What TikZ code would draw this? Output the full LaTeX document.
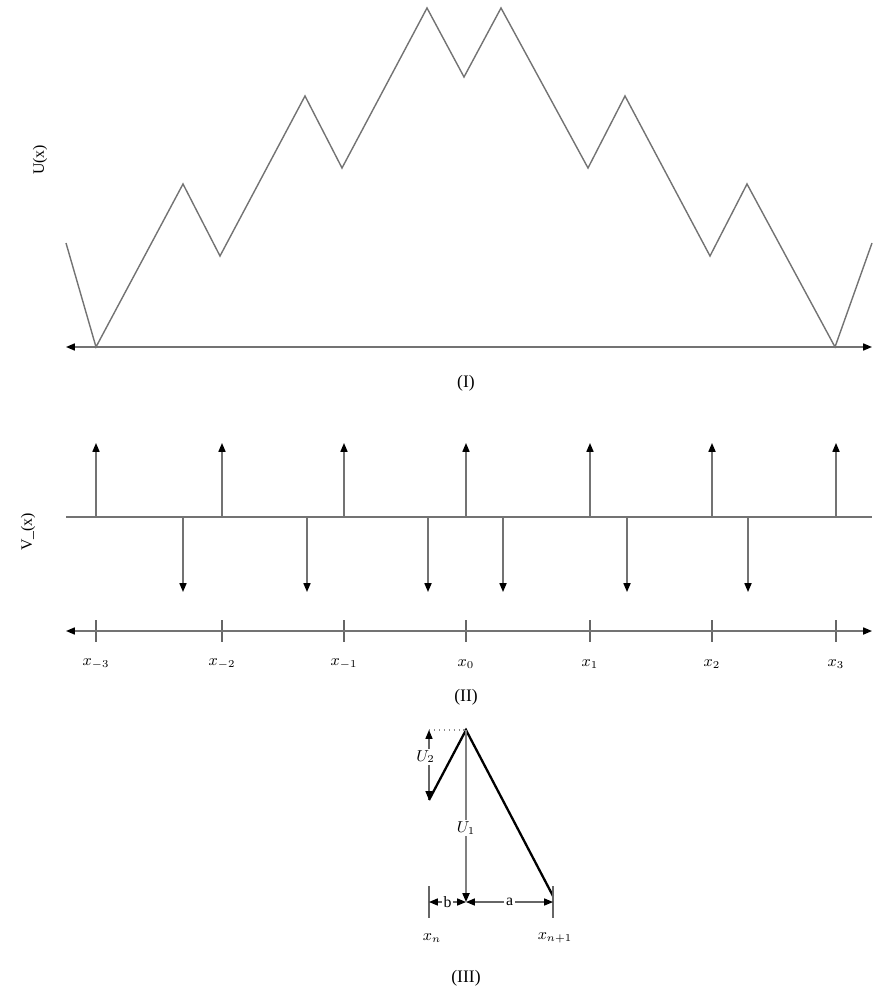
\documentclass[tikz,border=0pt]{standalone}
\usepackage{fontspec}
\setmainfont{Liberation Serif}
\usetikzlibrary{arrows.meta}
\usetikzlibrary{positioning}

\begin{document}
\begin{tikzpicture}[x=0.02cm,y=-0.02cm,
  curve/.style={draw=black!55,line width=0.8pt,line join=miter},
  axis/.style={draw=black!55,line width=0.8pt},
  tip/.style={-{Triangle[length=5pt,width=4pt,color=black]}},
  bothtips/.style={{Triangle[length=5pt,width=4pt,color=black]}-{Triangle[length=5pt,width=4pt,color=black]}},
  lbl/.style={font=\small,inner sep=1pt,text=black},
  partcap/.style={font=\normalsize,inner sep=1pt,text=black},
  thick line/.style={draw=black,line width=1.3pt}]
\useasboundingbox (0,0) rectangle (872,993);

% (I) the potential
\foreach \i/\px/\py in {0/66/243,1/96/347,2/183/184,3/220/256,4/305/96,
  5/342/168,6/427/8,7/464/77,8/501/8,9/588/168,10/625/96,11/710/256,
  12/747/184,13/835/347,14/872/243}
  \coordinate (u\i) at (\px,\py);
\draw[curve] (u0) \foreach \i in {1,...,14}{-- (u\i)};
\coordinate (iL) at (66,347);
\coordinate (iR) at (872,347);
\draw[axis,bothtips] (iL) -- (iR);
\node[lbl,rotate=90] (ulab) at (40,160) {U(x)};
\node[partcap] (capI) at (466,383) {(I)};

% (II) the spikes
\coordinate (bL) at (66,517);
\coordinate (bR) at (872,517);
\draw[axis] (bL) -- (bR);
\foreach \n/\px in {-3/96,-2/222,-1/344,0/466,1/590,2/712,3/836}{
  \coordinate (up\n) at (\px,517);
  \coordinate (upt\n) at (\px,443);
  \draw[axis,tip] (up\n) -- (upt\n);
  \coordinate (tk\n) at (\px,631);
  \draw[black!60,line width=0.6pt] ([yshift=6pt]tk\n) -- ([yshift=-6pt]tk\n);
  \node[lbl] (xl\n) at (\px,664) {$x_{\n}$};
}
\foreach \k/\px in {1/183,2/307,3/428,4/503,5/627,6/748}{
  \coordinate (dn\k) at (\px,517);
  \coordinate (dnt\k) at (\px,592);
  \draw[axis,tip] (dn\k) -- (dnt\k);
}
\coordinate (xL) at (66,631);
\coordinate (xR) at (872,631);
\draw[axis,bothtips] (xL) -- (xR);
\node[lbl,rotate=90] (vlab) at (28,532) {V\_(x)};
\node[partcap] (capII) at (466,697) {(II)};

% (III) one cell
\coordinate (top) at (466,730);
\coordinate (low) at (429,800);
\coordinate (end) at (553,896);
\coordinate (bot) at (466,902);
\coordinate (dtop) at (429,730);
\draw[thick line] (low) -- (top) -- (end);
\draw[black!45,dotted,line width=0.8pt] (dtop) -- (top);
\draw[black!50,line width=0.9pt,tip] (top) -- node[fill=white,lbl,pos=0.57] (u1) {$U_1$} (bot);
\draw[black!60,line width=0.6pt,bothtips] (dtop) -- node[fill=white,lbl,pos=0.38,xshift=-2pt] (u2) {$U_2$} (low);
\coordinate (tkn) at (429,902);
\coordinate (tkm) at (553,902);
\draw[black!60,line width=0.6pt] ([yshift=9pt]tkn) -- ([yshift=-9pt]tkn);
\draw[black!60,line width=0.6pt] ([yshift=9pt]tkm) -- ([yshift=-9pt]tkm);
\draw[black!60,line width=0.6pt,bothtips] (tkn) -- node[fill=white,lbl] (bl) {b} (bot);
\draw[black!60,line width=0.6pt,bothtips] (bot) -- node[fill=white,lbl] (al) {a} (tkm);
\node[lbl] (xn) at (432,938) {$x_n$};
\node[lbl] (xn1) at (555,938) {$x_{n+1}$};
\node[partcap] (capIII) at (466,978) {(III)};
\end{tikzpicture}
\end{document}
